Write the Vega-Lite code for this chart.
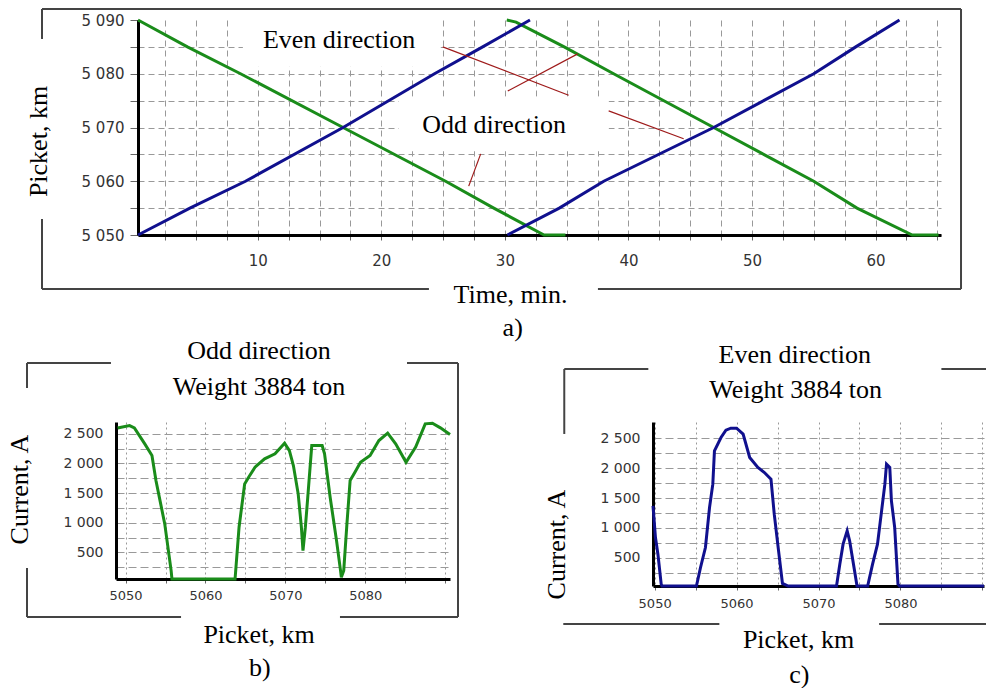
{
  "$schema": "https://vega.github.io/schema/vega-lite/v6.json",
  "autosize": {"type": "pad"},
  "padding": {"left": 6, "top": 7, "right": 0, "bottom": 0},
  "background": "white",
  "config": {
    "view": {"stroke": null},
    "axis": {
      "domainColor": "black", "domainWidth": 3, "tickColor": "#666", "labelColor": "#333",
      "labelFont": "DejaVu Sans", "titleFont": "Liberation Serif", "titleFontSize": 26,
      "titleFontWeight": "normal", "titleColor": "black", "gridColor": "#999", "gridWidth": 1,
      "labelOverlap": false, "labelFlush": false, "titleBaseline": "alphabetic", "titleAlign": "center"
    },
    "text": {"font": "Liberation Serif", "fontSize": 26, "color": "black", "baseline": "alphabetic", "align": "center"}
  },
  "bounds": "flush",
  "spacing": 402,
  "vconcat": [
    {
      "bounds": "flush",
      "spacing": 0,
      "hconcat": [
        {"width": 22, "height": 215, "data": {"values": [{}]}, "mark": {"type": "point", "opacity": 0}},
        {
          "width": 803,
          "height": 215,
          "encoding": {
            "x": {
              "field": "t", "type": "quantitative",
              "scale": {"domain": [0.3, 65.3], "nice": false, "zero": false},
              "axis": {
                "title": "Time, min.",
                "values": [2.5, 5, 7.5, 10, 12.5, 15, 17.5, 20, 22.5, 25, 27.5, 30, 32.5, 35, 37.5, 40, 42.5, 45, 47.5, 50, 52.5, 55, 57.5, 60, 62.5, 65],
                "labelExpr": "datum.value % 10 === 0 ? format(datum.value, 'd') : ''",
                "grid": true, "gridDash": [6, 4], "tickSize": 5, "labelPadding": 13, "labelFontSize": 15,
                "titleX": 372, "titleY": 67.7
              }
            },
            "y": {
              "field": "pk", "type": "quantitative",
              "scale": {"domain": [5050, 5090], "nice": false, "zero": false},
              "axis": {
                "title": "Picket, km",
                "values": [5050, 5055, 5060, 5065, 5070, 5075, 5080, 5085, 5090],
                "labelExpr": "datum.value % 10 === 0 ? replace(format(datum.value, ','), ',', ' ') : ''",
                "grid": true, "gridDash": [6, 4],
                "gridOpacity": {"condition": {"test": "datum.value === 5090", "value": 0}, "value": 1},
                "tickSize": 8, "labelPadding": 6, "labelFontSize": 15,
                "titleX": -92, "titleY": 121
              }
            }
          },
          "layer": [
            {
              "data": {"values": [
                {"t": 8.79, "t2": 24.81, "pk": 5081.3, "pk2": 5090},
                {"t": 21.41, "t2": 38.4, "pk": 5065.6, "pk2": 5075.7}
              ]},
              "mark": {"type": "rect", "fill": "white", "stroke": null},
              "encoding": {"x2": {"field": "t2"}, "y2": {"field": "pk2"}}
            },
            {
              "data": {"values": [
                {"dir": "Odd", "train": "g1", "t": 0.3, "pk": 5090},
                {"dir": "Odd", "train": "g1", "t": 4.3, "pk": 5085},
                {"dir": "Odd", "train": "g1", "t": 8.6, "pk": 5080},
                {"dir": "Odd", "train": "g1", "t": 16.9, "pk": 5070},
                {"dir": "Odd", "train": "g1", "t": 25.2, "pk": 5060},
                {"dir": "Odd", "train": "g1", "t": 29.1, "pk": 5055},
                {"dir": "Odd", "train": "g1", "t": 33.17, "pk": 5050},
                {"dir": "Odd", "train": "g1", "t": 34.9, "pk": 5050},
                {"dir": "Odd", "train": "g2", "t": 30.15, "pk": 5090},
                {"dir": "Odd", "train": "g2", "t": 30.9, "pk": 5089.6},
                {"dir": "Odd", "train": "g2", "t": 34.8, "pk": 5085},
                {"dir": "Odd", "train": "g2", "t": 38.8, "pk": 5080},
                {"dir": "Odd", "train": "g2", "t": 46.9, "pk": 5070},
                {"dir": "Odd", "train": "g2", "t": 55.0, "pk": 5060},
                {"dir": "Odd", "train": "g2", "t": 58.5, "pk": 5055},
                {"dir": "Odd", "train": "g2", "t": 62.97, "pk": 5050},
                {"dir": "Odd", "train": "g2", "t": 65.1, "pk": 5050},
                {"dir": "Even", "train": "b1", "t": 0.3, "pk": 5050},
                {"dir": "Even", "train": "b1", "t": 4.5, "pk": 5055},
                {"dir": "Even", "train": "b1", "t": 9.0, "pk": 5060},
                {"dir": "Even", "train": "b1", "t": 16.9, "pk": 5070},
                {"dir": "Even", "train": "b1", "t": 24.3, "pk": 5080},
                {"dir": "Even", "train": "b1", "t": 28.2, "pk": 5085},
                {"dir": "Even", "train": "b1", "t": 32.03, "pk": 5090},
                {"dir": "Even", "train": "b2", "t": 30.2, "pk": 5050},
                {"dir": "Even", "train": "b2", "t": 34.4, "pk": 5055},
                {"dir": "Even", "train": "b2", "t": 38.0, "pk": 5060},
                {"dir": "Even", "train": "b2", "t": 46.9, "pk": 5070},
                {"dir": "Even", "train": "b2", "t": 55.0, "pk": 5080},
                {"dir": "Even", "train": "b2", "t": 58.4, "pk": 5085},
                {"dir": "Even", "train": "b2", "t": 61.94, "pk": 5090}
              ]},
              "mark": {"type": "line", "strokeWidth": 3},
              "encoding": {
                "color": {"field": "dir", "type": "nominal", "scale": {"domain": ["Odd", "Even"], "range": ["#1a8c1a", "#10108e"]}, "legend": null},
                "detail": {"field": "train"}
              }
            },
            {
              "data": {"values": [
                {"t": 24.97, "pk": 5085.0, "t2": 35.16, "pk2": 5076.0},
                {"t": 30.23, "pk": 5076.8, "t2": 35.89, "pk2": 5083.7},
                {"t": 38.4, "pk": 5073.1, "t2": 44.47, "pk2": 5067.9},
                {"t": 28.04, "pk": 5065.1, "t2": 27.07, "pk2": 5059.1}
              ]},
              "mark": {"type": "rule", "color": "#9e1a1a", "strokeWidth": 1.2},
              "encoding": {"x2": {"field": "t2"}, "y2": {"field": "pk2"}}
            },
            {
              "data": {"values": [
                {"t": -7.47, "pk": 5092.05, "t2": 66.92, "pk2": 5092.05},
                {"t": 66.92, "pk": 5092.05, "t2": 66.92, "pk2": 5039.95},
                {"t": -7.47, "pk": 5039.95, "t2": 23.85, "pk2": 5039.95},
                {"t": 37.53, "pk": 5039.95, "t2": 66.92, "pk2": 5039.95},
                {"t": -7.47, "pk": 5092.05, "t2": -7.47, "pk2": 5086.47},
                {"t": -7.47, "pk": 5052.98, "t2": -7.47, "pk2": 5039.95}
              ]},
              "mark": {"type": "rule", "color": "#444", "strokeWidth": 2},
              "encoding": {"x2": {"field": "t2"}, "y2": {"field": "pk2"}}
            },
            {
              "data": {"values": [
                {"t": 16.58, "pk": 5084.85, "label": "Even direction"},
                {"t": 29.12, "pk": 5069.03, "label": "Odd direction"},
                {"t": 30.63, "pk": 5031.2, "label": "a)"}
              ]},
              "mark": {"type": "text"},
              "encoding": {"text": {"field": "label"}}
            }
          ]
        }
      ]
    },
    {
      "bounds": "flush",
      "spacing": 203,
      "hconcat": [
        {
          "width": 334,
          "height": 157,
          "encoding": {
            "x": {
              "field": "pk", "type": "quantitative",
              "scale": {"domain": [5048.8, 5090.6], "nice": false, "zero": false},
              "axis": {
                "title": "Picket, km",
                "values": [5050, 5055, 5060, 5065, 5070, 5075, 5080, 5085, 5090],
                "labelExpr": "datum.value % 10 === 0 && datum.value < 5090 ? format(datum.value, 'd') : ''",
                "grid": true, "gridDash": [2, 3], "tickSize": 4, "labelPadding": 6, "labelFontSize": 13,
                "titleX": 142.5, "titleY": 63.7
              }
            },
            "y": {
              "field": "I", "type": "quantitative",
              "scale": {"domain": [50, 2700], "nice": false, "zero": false},
              "axis": {
                "title": "Current, A",
                "values": [250, 500, 750, 1000, 1250, 1500, 1750, 2000, 2250, 2500],
                "labelExpr": "datum.value % 500 === 0 ? replace(format(datum.value, ','), ',', ' ') : ''",
                "grid": true, "gridDash": [8, 4], "ticks": false, "labelPadding": 13, "labelFontSize": 14,
                "titleX": -88.3, "titleY": 67
              }
            }
          },
          "layer": [
            {
              "data": {"values": [
                {"pk": 5049.0, "I": 2600}, {"pk": 5050.5, "I": 2640}, {"pk": 5051.1, "I": 2600},
                {"pk": 5052.4, "I": 2330}, {"pk": 5053.3, "I": 2134}, {"pk": 5053.8, "I": 1712},
                {"pk": 5054.9, "I": 980}, {"pk": 5055.7, "I": 192}, {"pk": 5055.8, "I": 50},
                {"pk": 5063.7, "I": 50}, {"pk": 5064.2, "I": 924}, {"pk": 5064.9, "I": 1655},
                {"pk": 5065.4, "I": 1768}, {"pk": 5066.2, "I": 1937}, {"pk": 5067.4, "I": 2078},
                {"pk": 5068.7, "I": 2162}, {"pk": 5069.9, "I": 2342}, {"pk": 5070.5, "I": 2218},
                {"pk": 5071.0, "I": 1965}, {"pk": 5071.6, "I": 1487}, {"pk": 5072.0, "I": 924},
                {"pk": 5072.2, "I": 530}, {"pk": 5072.5, "I": 924}, {"pk": 5072.8, "I": 1430},
                {"pk": 5073.3, "I": 2303}, {"pk": 5074.6, "I": 2303}, {"pk": 5074.9, "I": 2162},
                {"pk": 5075.6, "I": 1430}, {"pk": 5076.4, "I": 698}, {"pk": 5076.9, "I": 192},
                {"pk": 5077.0, "I": 80}, {"pk": 5077.3, "I": 192}, {"pk": 5077.7, "I": 980},
                {"pk": 5078.1, "I": 1712}, {"pk": 5078.7, "I": 1853}, {"pk": 5079.4, "I": 2021},
                {"pk": 5080.6, "I": 2134}, {"pk": 5081.7, "I": 2387}, {"pk": 5082.8, "I": 2511},
                {"pk": 5083.8, "I": 2331}, {"pk": 5085.1, "I": 2021}, {"pk": 5086.3, "I": 2275},
                {"pk": 5087.5, "I": 2669}, {"pk": 5088.4, "I": 2680}, {"pk": 5089.4, "I": 2601},
                {"pk": 5090.6, "I": 2489}
              ]},
              "mark": {"type": "line", "strokeWidth": 3, "color": "#1a8c1a"},
              "encoding": {}
            },
            {
              "data": {"values": [
                {"pk": 5037.66, "I": 3696, "pk2": 5048.17, "I2": 3696},
                {"pk": 5085.22, "I": 3696, "pk2": 5091.6, "I2": 3696},
                {"pk": 5091.6, "I": 3696, "pk2": 5091.6, "I2": -591},
                {"pk": 5037.66, "I": -591, "pk2": 5056.94, "I2": -591},
                {"pk": 5076.83, "I": -591, "pk2": 5091.6, "I2": -591},
                {"pk": 5037.66, "I": 3696, "pk2": 5037.66, "I2": 3274},
                {"pk": 5037.66, "I": 236, "pk2": 5037.66, "I2": -591}
              ]},
              "mark": {"type": "rule", "color": "#444", "strokeWidth": 2},
              "encoding": {"x2": {"field": "pk2"}, "y2": {"field": "I2"}}
            },
            {
              "data": {"values": [
                {"pk": 5066.7, "I": 3764, "label": "Odd direction"},
                {"pk": 5066.7, "I": 3156, "label": "Weight 3884 ton"},
                {"pk": 5066.8, "I": -1587, "label": "b)"}
              ]},
              "mark": {"type": "text"},
              "encoding": {"text": {"field": "label"}}
            }
          ]
        },
        {
          "width": 331,
          "height": 164,
          "encoding": {
            "x": {
              "field": "pk", "type": "quantitative",
              "scale": {"domain": [5049.8, 5090.2], "nice": false, "zero": false},
              "axis": {
                "title": "Picket, km",
                "values": [5050, 5055, 5060, 5065, 5070, 5075, 5080, 5085, 5090],
                "labelExpr": "datum.value % 10 === 0 && datum.value < 5090 ? format(datum.value, 'd') : ''",
                "grid": true, "gridDash": [2, 3], "tickSize": 4, "labelPadding": 7, "labelFontSize": 13,
                "titleX": 145, "titleY": 61.7
              }
            },
            "y": {
              "field": "I", "type": "quantitative",
              "scale": {"domain": [30, 2770], "nice": false, "zero": false},
              "axis": {
                "title": "Current, A",
                "values": [250, 500, 750, 1000, 1250, 1500, 1750, 2000, 2250, 2500],
                "labelExpr": "datum.value % 500 === 0 ? replace(format(datum.value, ','), ',', ' ') : ''",
                "grid": true, "gridDash": [8, 4], "ticks": false, "labelPadding": 13, "labelFontSize": 14,
                "titleX": -88.4, "titleY": 122
              }
            }
          },
          "layer": [
            {
              "data": {"values": [
                {"pk": 5049.8, "I": 1369}, {"pk": 5050.1, "I": 840}, {"pk": 5050.4, "I": 562},
                {"pk": 5050.8, "I": 60}, {"pk": 5050.9, "I": 30}, {"pk": 5055.1, "I": 30},
                {"pk": 5055.6, "I": 339}, {"pk": 5056.2, "I": 673}, {"pk": 5056.7, "I": 1341},
                {"pk": 5057.1, "I": 1731}, {"pk": 5057.3, "I": 2288}, {"pk": 5058.1, "I": 2511},
                {"pk": 5058.7, "I": 2634}, {"pk": 5059.3, "I": 2667}, {"pk": 5060.0, "I": 2667},
                {"pk": 5060.8, "I": 2567}, {"pk": 5061.6, "I": 2177}, {"pk": 5062.6, "I": 2010},
                {"pk": 5063.4, "I": 1926}, {"pk": 5064.2, "I": 1815}, {"pk": 5064.6, "I": 1230},
                {"pk": 5065.1, "I": 645}, {"pk": 5065.6, "I": 72}, {"pk": 5066.3, "I": 30},
                {"pk": 5072.2, "I": 30}, {"pk": 5072.6, "I": 395}, {"pk": 5073.0, "I": 729},
                {"pk": 5073.5, "I": 952}, {"pk": 5073.8, "I": 785}, {"pk": 5074.4, "I": 283},
                {"pk": 5074.7, "I": 30}, {"pk": 5076.0, "I": 30}, {"pk": 5076.6, "I": 395},
                {"pk": 5077.2, "I": 729}, {"pk": 5077.7, "I": 1286}, {"pk": 5078.1, "I": 1731},
                {"pk": 5078.3, "I": 2066}, {"pk": 5078.7, "I": 2010}, {"pk": 5078.9, "I": 1453},
                {"pk": 5079.3, "I": 1007}, {"pk": 5079.7, "I": 60}, {"pk": 5079.9, "I": 30},
                {"pk": 5090.2, "I": 30}
              ]},
              "mark": {"type": "line", "strokeWidth": 3, "color": "#10108e"},
              "encoding": {}
            },
            {
              "data": {"values": [
                {"pk": 5038.97, "I": 3656, "pk2": 5049.23, "I2": 3656},
                {"pk": 5085.0, "I": 3656, "pk2": 5091.0, "I2": 3656},
                {"pk": 5038.97, "I": 3656, "pk2": 5038.97, "I2": 2570},
                {"pk": 5038.85, "I": -605, "pk2": 5057.9, "I2": -605},
                {"pk": 5077.4, "I": -605, "pk2": 5091.0, "I2": -605}
              ]},
              "mark": {"type": "rule", "color": "#444", "strokeWidth": 2},
              "encoding": {"x2": {"field": "pk2"}, "y2": {"field": "I2"}}
            },
            {
              "data": {"values": [
                {"pk": 5067.1, "I": 3761, "label": "Even direction"},
                {"pk": 5067.2, "I": 3166, "label": "Weight 3884 ton"},
                {"pk": 5067.65, "I": -1586, "label": "c)"}
              ]},
              "mark": {"type": "text"},
              "encoding": {"text": {"field": "label"}}
            }
          ]
        }
      ]
    }
  ]
}
